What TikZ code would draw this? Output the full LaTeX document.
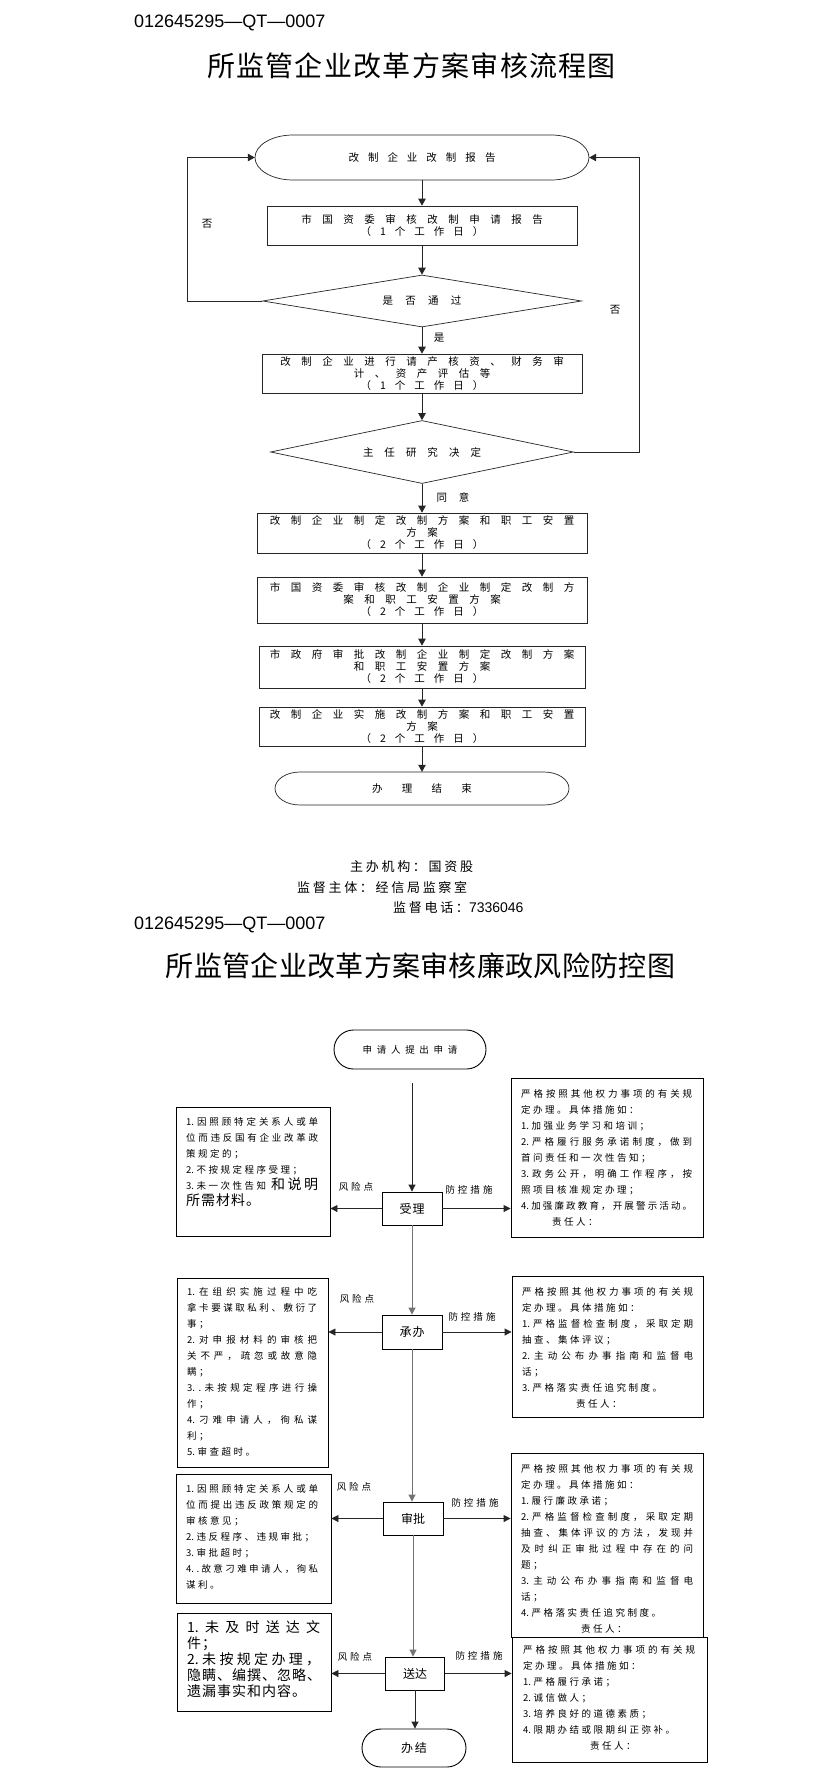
\documentclass[tikz,border=0pt]{standalone}
\usepackage{fontspec}
\setmainfont{Noto Sans CJK SC}
\newfontfamily\codef{Liberation Sans}
\usetikzlibrary{arrows.meta,shapes.geometric}
\makeatletter
\def\jl@end{\jl@end@}
\newcommand\jl[2]{\makebox[#1][s]{\jl@a#2\jl@end}}
\def\jl@a#1{#1\jl@b}
\def\jl@b#1{\ifx#1\jl@end\else\hfil#1\expandafter\jl@b\fi}
\newcommand\gapped[2]{\def\gp@g{\hspace{#1}}\gp@a#2\jl@end}
\def\gp@a#1{#1\gp@b}
\def\gp@b#1{\ifx#1\jl@end\else\gp@g#1\expandafter\gp@b\fi}
\makeatother
\newcommand\bigf{\fontsize{14}{16}\selectfont}
\begin{document}
\begin{tikzpicture}[x=1pt,y=-1pt,
  topbox/.style={draw=black!85, line width=0.7pt, inner sep=0pt, align=center, font=\fontsize{10.5}{12}\selectfont},
  tarr/.style={-{Triangle[length=7pt,width=7.5pt]}, line width=0.7pt, draw=black!85},
  barr/.style={-{Triangle[length=7pt,width=7pt]}, line width=0.9pt, draw=black!85},
  garr/.style={-{Triangle[length=7pt,width=7pt]}, line width=0.9pt, draw=black!55},
  lbl/.style={inner sep=0pt, font=\fontsize{10.5}{12}\selectfont},
  slbl/.style={inner sep=0pt, font=\fontsize{9.5}{11}\selectfont},
  stepbox/.style={draw, line width=0.9pt, inner sep=0pt, font=\fontsize{12}{14}\selectfont},
  ibox/.style={draw, line width=0.9pt, inner sep=0pt},
  itext/.style={inner sep=0pt, anchor=north west, align=left, font=\fontsize{9.5}{16}\selectfont},
  codetext/.style={inner sep=0pt, anchor=west, font=\codef\fontsize{18}{20}\selectfont},
  titletext/.style={inner sep=0pt, font=\fontsize{28}{30}\selectfont},
  foot/.style={inner sep=0pt, anchor=west, font=\fontsize{13}{15}\selectfont}
]
\fill[white] (0,0) rectangle (823,1783);
\useasboundingbox (0,0) rectangle (823,1783);

% ---------- upper chart ----------
\node[codetext] (code1) at (134,23) {012645295—QT—0007};
\node[titletext] (title1) at (411.5,66) {\gapped{1.3pt}{所监管企业改革方案审核流程图}};

\node[inner sep=0pt, minimum width=334pt, minimum height=45pt, font=\fontsize{10.5}{12}\selectfont] (start) at (422,157.5) {\gapped{9pt}{改制企业改制报告}};
\draw[line width=0.7pt, black!85] (293,135) -- (551,135) .. controls (572,135) and (589,145.1) .. (589,157.5) .. controls (589,169.9) and (572,180) .. (551,180) -- (293,180) .. controls (272,180) and (255,169.9) .. (255,157.5) .. controls (255,145.1) and (272,135) .. (293,135) -- cycle;

\node[topbox, minimum width=310pt, minimum height=39pt] (b1) at (422,225.5) {\gapped{10.5pt}{市国资委审核改制申请报告}\\\gapped{9pt}{（1个工作日）}};
\node[topbox, diamond, aspect=6, minimum width=319pt, minimum height=52pt] (d1) at (422,301) {\gapped{12.3pt}{是否通过}};
\node[topbox, minimum width=320pt, minimum height=39pt] (b2) at (422,373.5) {\gapped{10.5pt}{改制企业进行请产核资、财务审}\\\gapped{10.5pt}{计、资产评估等}\\\gapped{9pt}{（1个工作日）}};
\node[topbox, diamond, aspect=4.8, minimum width=303pt, minimum height=63pt] (d2) at (422,452) {\gapped{11pt}{主任研究决定}};
\node[topbox, minimum width=330pt, minimum height=40pt] (b3) at (422,533) {\gapped{10.5pt}{改制企业制定改制方案和职工安置}\\\gapped{10.5pt}{方案}\\\gapped{9pt}{（2个工作日）}};
\node[topbox, minimum width=330pt, minimum height=46pt] (b4) at (422,600) {\gapped{10.5pt}{市国资委审核改制企业制定改制方}\\\gapped{10.5pt}{案和职工安置方案}\\\gapped{9pt}{（2个工作日）}};
\node[topbox, minimum width=326pt, minimum height=42pt] (b5) at (422,667) {\gapped{10.5pt}{市政府审批改制企业制定改制方案}\\\gapped{10.5pt}{和职工安置方案}\\\gapped{9pt}{（2个工作日）}};
\node[topbox, minimum width=326pt, minimum height=39pt] (b6) at (422,726.5) {\gapped{10.5pt}{改制企业实施改制方案和职工安置}\\\gapped{10.5pt}{方案}\\\gapped{9pt}{（2个工作日）}};
\node[inner sep=0pt, minimum width=294pt, minimum height=33pt, font=\fontsize{10.5}{12}\selectfont] (end) at (422,788.5) {\gapped{19.3pt}{办理结束}};
\draw[line width=0.7pt, black!85] (300,772) -- (544,772) .. controls (557.8,772) and (569,779.4) .. (569,788.5) .. controls (569,797.6) and (557.8,805) .. (544,805) -- (300,805) .. controls (286.2,805) and (275,797.6) .. (275,788.5) .. controls (275,779.4) and (286.2,772) .. (300,772) -- cycle;

\draw[tarr] (start) -- (b1);
\draw[tarr] (b1) -- (d1);
\draw[tarr] (d1) -- (b2);
\draw[tarr] (b2) -- (d2);
\draw[tarr] (d2) -- (b3);
\draw[tarr] (b3) -- (b4);
\draw[tarr] (b4) -- (b5);
\draw[tarr] (b5) -- (b6);
\draw[tarr] (b6) -- (end);
\draw[tarr] (d1.west) -- ++(-75,0) |- (start.west);
\draw[tarr] (d2.east) -- ++(65,0) |- (start.east);
\node[lbl] (no1) at (207,224) {否};
\node[lbl] (no2) at (615,310) {否};
\node[lbl] (yes1) at (439,338) {是};
\node[lbl] (agree) at (453,497) {\gapped{12pt}{同意}};

\node[foot] (f1) at (350,867) {\gapped{2.7pt}{主办机构：国资股}};
\node[foot] (f2) at (297,888) {\gapped{2.7pt}{监督主体：经信局监察室}};
\node[foot] (f3) at (393,908) {\gapped{2.7pt}{监督电话：}{\codef\fontsize{14}{16}\selectfont 7336046}};

% ---------- lower chart ----------
\node[codetext] (code2) at (134,925) {012645295—QT—0007};
\node[titletext] (title2) at (420.5,966) {\gapped{0.3pt}{所监管企业改革方案审核廉政风险防控图}};

\node[draw, line width=0.9pt, inner sep=0pt, rounded corners=19.5pt, minimum width=152pt, minimum height=39pt, font=\fontsize{9.5}{11}\selectfont] (s2) at (410,1049.5) {\gapped{4.7pt}{申请人提出申请}};
\node[stepbox, minimum width=60pt, minimum height=33pt] (shouli) at (412,1208.5) {\gapped{1pt}{受理}};
\node[stepbox, minimum width=60pt, minimum height=34pt] (chengban) at (412,1332) {\gapped{1pt}{承办}};
\node[stepbox, minimum width=60pt, minimum height=33pt] (shenpi) at (413,1518.5) {审批};
\node[stepbox, minimum width=59pt, minimum height=33pt] (songda) at (415,1673.5) {送达};
\node[stepbox, rounded corners=19pt, minimum width=104pt, minimum height=38pt] (banjie) at (414,1748) {\gapped{2pt}{办结}};

\node[ibox, minimum width=154pt, minimum height=129pt] (L1) at (253,1171.5) {};
\node[ibox, minimum width=151pt, minimum height=189pt] (L2) at (252.5,1372.5) {};
\node[ibox, minimum width=155pt, minimum height=129pt] (L3) at (253.5,1538.5) {};
\node[ibox, minimum width=154pt, minimum height=98pt] (L4) at (254,1662) {};
\node[ibox, minimum width=192pt, minimum height=159pt] (R1) at (607,1157.5) {};
\node[ibox, minimum width=191pt, minimum height=141pt] (R2) at (607.5,1346.5) {};
\node[ibox, minimum width=192pt, minimum height=184pt] (R3) at (607,1545) {};
\node[ibox, minimum width=195pt, minimum height=125pt] (R4) at (609.5,1699.5) {};

\node[itext] (L1t) at (186,1117.5) {%
\jl{132pt}{{1.}因照顾特定关系人或单}\\
\jl{132pt}{位而违反国有企业改革政}\\
\gapped{2.5pt}{策规定的；}\\
\gapped{2.5pt}{{2.}不按规定程序受理；}\\
\jl{132pt}{{3.}未一次性告知\bigf 和说明}\\
{\bigf\gapped{1pt}{所需材料。}}};

\node[itext] (L2t) at (187,1287.5) {%
\jl{130pt}{{1.}在组织实施过程中吃}\\
\jl{130pt}{拿卡要谋取私利、敷衍了}\\
\gapped{2.5pt}{事；}\\
\jl{130pt}{{2.}对申报材料的审核把}\\
\jl{130pt}{关不严，疏忽或故意隐}\\
\gapped{2.5pt}{瞒；}\\
\jl{130pt}{{3.}{.}未按规定程序进行操}\\
\gapped{2.5pt}{作；}\\
\jl{130pt}{{4.}刁难申请人，徇私谋}\\
\gapped{2.5pt}{利；}\\
\gapped{2.5pt}{{5.}审查超时。}};

\node[itext] (L3t) at (186,1484.5) {%
\jl{132pt}{{1.}因照顾特定关系人或单}\\
\jl{132pt}{位而提出违反政策规定的}\\
\gapped{2.5pt}{审核意见；}\\
\gapped{2.5pt}{{2.}违反程序、违规审批；}\\
\gapped{2.5pt}{{3.}审批超时；}\\
\jl{132pt}{{4.}{.}故意刁难申请人，徇私}\\
\gapped{2.5pt}{谋利。}};

\node[itext, font=\fontsize{14}{16}\selectfont] (L4t) at (187,1620.5) {%
\jl{133pt}{{1.}未及时送达文}\\
\gapped{1pt}{件；}\\
\jl{133pt}{{2.}未按规定办理，}\\
\gapped{1pt}{隐瞒、编撰、忽略、}\\
\gapped{1pt}{遗漏事实和内容。}};

\node[itext] (R1t) at (521,1089.5) {%
\jl{171pt}{严格按照其他权力事项的有关规}\\
\gapped{2.5pt}{定办理。具体措施如：}\\
\gapped{2.5pt}{{1.}加强业务学习和培训；}\\
\jl{171pt}{{2.}严格履行服务承诺制度，做到}\\
\gapped{2.5pt}{首问责任和一次性告知；}\\
\jl{171pt}{{3.}政务公开，明确工作程序，按}\\
\gapped{2.5pt}{照项目核准规定办理；}\\
\jl{171pt}{{4.}加强廉政教育，开展警示活动。}\\
\hspace*{31pt}\gapped{2.5pt}{责任人：}};

\node[itext] (R2t) at (522,1287.5) {%
\jl{171pt}{严格按照其他权力事项的有关规}\\
\gapped{2.5pt}{定办理。具体措施如：}\\
\jl{171pt}{{1.}严格监督检查制度，采取定期}\\
\gapped{2.5pt}{抽查、集体评议；}\\
\jl{171pt}{{2.}主动公布办事指南和监督电}\\
\gapped{2.5pt}{话；}\\
\gapped{2.5pt}{{3.}严格落实责任追究制度。}\\
\hspace*{54pt}\gapped{2.5pt}{责任人：}};

\node[itext] (R3t) at (521,1464.5) {%
\jl{172pt}{严格按照其他权力事项的有关规}\\
\gapped{2.5pt}{定办理。具体措施如：}\\
\gapped{2.5pt}{{1.}履行廉政承诺；}\\
\jl{172pt}{{2.}严格监督检查制度，采取定期}\\
\jl{172pt}{抽查、集体评议的方法，发现并}\\
\jl{172pt}{及时纠正审批过程中存在的问}\\
\gapped{2.5pt}{题；}\\
\jl{172pt}{{3.}主动公布办事指南和监督电}\\
\gapped{2.5pt}{话；}\\
\gapped{2.5pt}{{4.}严格落实责任追究制度。}\\
\hspace*{60pt}\gapped{2.5pt}{责任人：}};

\node[itext] (R4t) at (523,1645.5) {%
\jl{172pt}{严格按照其他权力事项的有关规}\\
\gapped{2.5pt}{定办理。具体措施如：}\\
\gapped{2.5pt}{{1.}严格履行承诺；}\\
\gapped{2.5pt}{{2.}诚信做人；}\\
\gapped{2.5pt}{{3.}培养良好的道德素质；}\\
\gapped{2.5pt}{{4.}限期办结或限期纠正弥补。}\\
\hspace*{67pt}\gapped{2.5pt}{责任人：}};

\node[slbl] (r1) at (356,1187) {\gapped{3pt}{风险点}};
\node[slbl] (r2) at (357,1299) {\gapped{3pt}{风险点}};
\node[slbl] (r3) at (354,1487) {\gapped{3pt}{风险点}};
\node[slbl] (r4) at (355,1657) {\gapped{3pt}{风险点}};
\node[slbl] (p1) at (469,1190) {\gapped{3pt}{防控措施}};
\node[slbl] (p2) at (472,1317) {\gapped{3pt}{防控措施}};
\node[slbl] (p3) at (475,1503) {\gapped{3pt}{防控措施}};
\node[slbl] (p4) at (479,1656) {\gapped{3pt}{防控措施}};

\draw[barr] (s2.south -| shouli.north) ++(0,14) -- (shouli.north);
\draw[garr] (shouli.south) -- (chengban.north);
\draw[garr] (chengban.south) -- (chengban.south |- shenpi.north);
\draw[garr] (shenpi.south) -- (shenpi.south |- songda.north);
\draw[barr] (songda.south) -- (songda.south |- banjie.north);

\draw[barr] (shouli.west) -- (shouli.west -| L1.east);
\draw[barr] (shouli.east) -- (shouli.east -| R1.west);
\draw[barr] (chengban.west) -- (chengban.west -| L2.east);
\draw[barr] (chengban.east) -- (chengban.east -| R2.west);
\draw[barr] (shenpi.west) -- (shenpi.west -| L3.east);
\draw[barr] (shenpi.east) -- (shenpi.east -| R3.west);
\draw[barr] (songda.west) -- (songda.west -| L4.east);
\draw[barr] (songda.east) -- (songda.east -| R4.west);
\end{tikzpicture}
\end{document}
